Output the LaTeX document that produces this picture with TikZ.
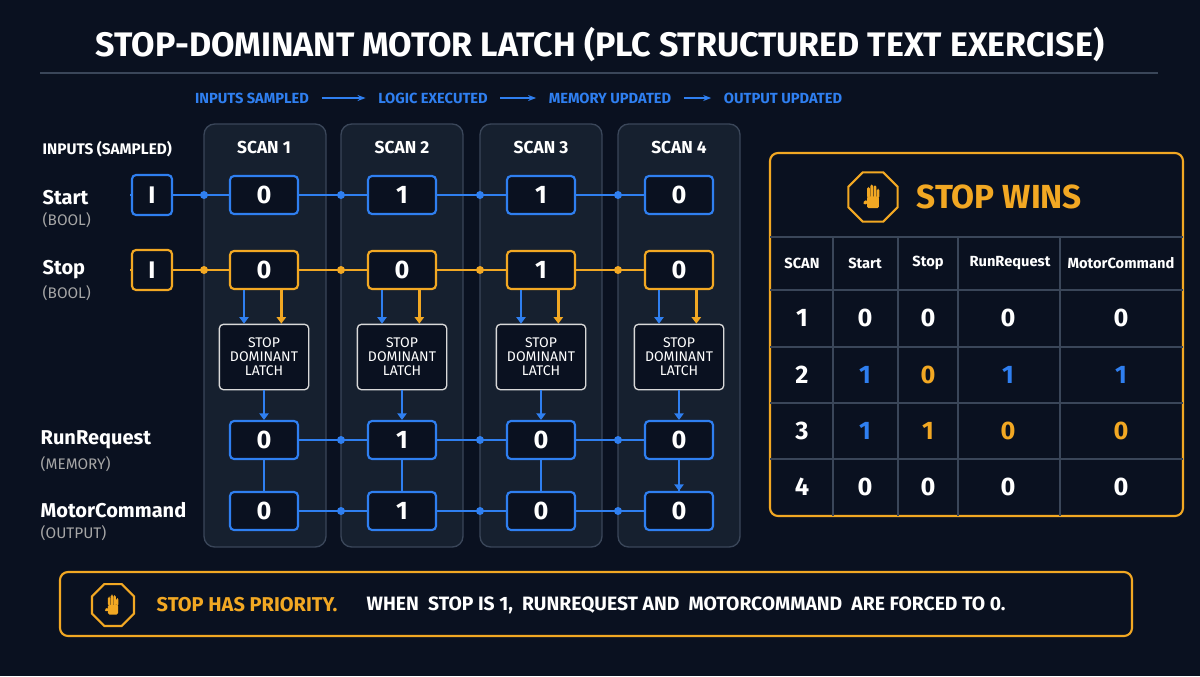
\documentclass[tikz,border=0pt]{standalone}
\usepackage{fontspec}
\setmainfont{Fira Sans}
\usetikzlibrary{positioning,shapes.geometric,arrows.meta}
\definecolor{bg}{HTML}{0A1120}
\definecolor{panel}{HTML}{16202F}
\definecolor{edge}{HTML}{3A4659}
\definecolor{runblue}{HTML}{2F7FF0}
\definecolor{stoporange}{HTML}{F2A823}
\newcommand{\fs}[1]{\fontsize{#1}{#1}\selectfont}
% small raised hand, drawn at (#1) with scale #2
\newcommand{\palm}[2]{%
	\begin{scope}[shift={(#1)}, scale=#2, fill=stoporange, rounded corners=1.2pt]
		\fill (-7,-2) rectangle (7,12);
		\fill (-7,-13) rectangle (-3.6,0);
		\fill (-3.2,-16) rectangle (0.2,0);
		\fill (0.6,-15) rectangle (4,0);
		\fill (4.4,-11) rectangle (7.6,0);
		\fill[rotate around={35:(-7,4)}] (-12,2) rectangle (-6,6);
	\end{scope}}
\tikzset{
	valbox/.style={draw=#1, line width=1.6pt, rounded corners=3pt, fill=bg,
		minimum width=51pt, minimum height=28.5pt, text=white, font=\fs{19}\bfseries},
	inbox/.style={valbox=#1, minimum width=30pt, minimum height=30pt},
	latch/.style={draw=white!85!black, line width=1pt, rounded corners=3pt, fill=bg,
		minimum width=67pt, minimum height=49pt, align=center, text=white,
		font=\fs{10.5}, inner sep=1pt},
	dot/.style={circle, fill=#1, inner sep=0pt, minimum size=6pt},
	link/.style={draw=#1, line width=2pt},
	feed/.style={draw=#1, line width=1.8pt, -{Triangle[length=5pt,width=7pt]}},
	rowname/.style={anchor=west, text=white, font=\fs{15}\bfseries},
	kind/.style={anchor=west, text=white!65!black, font=\fs{11.5}},
	flow/.style={text=runblue, font=\fs{11}\bfseries},
	cell/.style={text=white, font=\fs{19}\bfseries},
	colhead/.style={text=white, font=\fs{11}\bfseries},
	stopsign/.style={regular polygon, regular polygon sides=8,
		draw=stoporange, line width=1.6pt, fill=bg, minimum size=#1, inner sep=0pt}
}
\begin{document}
\begin{tikzpicture}[x=0.75pt, y=-0.75pt]
	\useasboundingbox[fill=bg] (0,0) rectangle (1200,676);

	% title
	\node[text=white, font=\fs{25.5}\bfseries] (title) at (600,45)
		{STOP-DOMINANT MOTOR LATCH (PLC STRUCTURED TEXT EXERCISE)};
	\draw[edge, line width=1pt] (40,73) -- (1158,73);

	% scan order
	\node[flow] (f1) at (252,98) {INPUTS SAMPLED};
	\node[flow] (f2) at (433,98) {LOGIC EXECUTED};
	\node[flow] (f3) at (610,98) {MEMORY UPDATED};
	\node[flow] (f4) at (783,98) {OUTPUT UPDATED};
	\foreach \a/\b in {f1/f2, f2/f3, f3/f4}
		\draw[runblue, line width=1.3pt, -{Stealth[length=6pt]}] ([xshift=6pt]\a.east) -- ([xshift=-6pt]\b.west);

	% left labels
	\node[anchor=west, text=white, font=\fs{11.5}\bfseries] (inputs) at (38,149) {INPUTS (SAMPLED)};
	\node[rowname] (lstart) at (38,198) {Start};
	\node[kind] at (38,220) {(BOOL)};
	\node[rowname] (lstop) at (38,270) {Stop};
	\node[kind] at (38,293) {(BOOL)};
	\node[rowname] (lrun) at (36,440) {RunRequest};
	\node[kind] at (36,464) {(MEMORY)};
	\node[rowname] (lmotor) at (36,510) {MotorCommand};
	\node[kind] at (36,533) {(OUTPUT)};

	% scan columns
	\foreach \n/\xl in {1/204, 2/341, 3/480, 4/618} {
		\fill[panel, rounded corners=8pt] (\xl,124) rectangle ++(122,423);
		\draw[edge, line width=1pt, rounded corners=8pt] (\xl,124) rectangle ++(122,423);
	}

	\draw[link=runblue] (130,195) -- (710,195);
	\draw[link=stoporange] (130,270) -- (710,270);
	\draw[link=runblue] (264,440) -- (679,440);
	\draw[link=runblue] (264,511) -- (679,511);

	\node[inbox=runblue] (in1) at (152,195) {\fs{18}I};
	\node[inbox=stoporange] (in2) at (152,270) {\fs{18}I};

	\foreach \n/\xl/\xc/\s/\p/\r in {1/204/264/0/0/0, 2/341/402/1/0/1, 3/480/541/1/1/0, 4/618/679/0/0/0} {
		\node[text=white, font=\fs{13}\bfseries] at (\xc,147) {SCAN \n};
		\node[valbox=runblue] (s\n) at (\xc,195) {\s};
		\node[valbox=stoporange] (p\n) at (\xc,270) {\p};
		\node[latch] (l\n) at (\xc,357) {STOP\\DOMINANT\\LATCH};
		\node[valbox=runblue] (r\n) at (\xc,440) {\r};
		\node[valbox=runblue] (m\n) at (\xc,511) {\r};
		\node[dot=runblue] at (\xl,195) {};
		\node[dot=stoporange] at (\xl,270) {};
		\draw[feed=runblue] ([xshift=-15pt]p\n.south) -- ([xshift=-15pt]p\n.south |- l\n.north);
		\draw[feed=stoporange] ([xshift=13pt]p\n.south) -- ([xshift=13pt]p\n.south |- l\n.north);
		\draw[feed=runblue] (l\n) -- (r\n);
		\draw[link=runblue] (r\n) -- (m\n);
	}
	\draw[feed=runblue] (r4) -- (m4);
	\foreach \xl in {341,480,618} {
		\node[dot=runblue] at (\xl,440) {};
		\node[dot=runblue] at (\xl,511) {};
	}

	% result table
	\draw[stoporange, line width=1.6pt, rounded corners=6pt, fill=bg] (770,153) rectangle (1183,516);
	\node[stopsign=40pt] (sign1) at (873,197) {};
	\palm{873,198}{0.85}
	\node[anchor=west, text=stoporange, font=\fs{25}\bfseries] (wins) at (912,197) {STOP WINS};
	\foreach \y in {237,290,347,403,459}
		\draw[edge, line width=1pt] (770,\y) -- (1183,\y);
	\foreach \x in {833,898,958,1060}
		\draw[edge, line width=1pt] (\x,237) -- (\x,516);
	\foreach \x/\t in {802/SCAN, 865/Start, 928/Stop, 1010/RunRequest, 1121/MotorCommand}
		\node[colhead] at (\x,263) {\t};
	\foreach \y/\k in {318/1, 375/2, 431/3, 487/4}
		\node[cell] at (802,\y) {\k};
	\foreach \y/\a/\b/\c/\d/\ca/\cb/\cc/\cd in {
			318/0/0/0/0/white/white/white/white,
			375/1/0/1/1/runblue/stoporange/runblue/runblue,
			431/1/1/0/0/runblue/stoporange/stoporange/stoporange,
			487/0/0/0/0/white/white/white/white} {
		\node[cell, text=\ca] at (865,\y) {\a};
		\node[cell, text=\cb] at (928,\y) {\b};
		\node[cell, text=\cc] at (1008,\y) {\c};
		\node[cell, text=\cd] at (1121,\y) {\d};
	}

	% priority note
	\draw[stoporange, line width=1.6pt, rounded corners=6pt] (60,572) rectangle (1132,636);
	\node[stopsign=34pt] (sign2) at (113,605) {};
	\palm{113,606}{0.72}
	\node[anchor=west, text=stoporange, font=\fs{15}\bfseries] (prio) at (152,605) {STOP HAS PRIORITY.};
	\node[anchor=west, text=white, font=\fs{14.5}\bfseries] (rule) at (362,605)
		{WHEN~ STOP IS 1,~ RUNREQUEST AND~ MOTORCOMMAND~ ARE FORCED TO 0.};
\end{tikzpicture}
\end{document}
